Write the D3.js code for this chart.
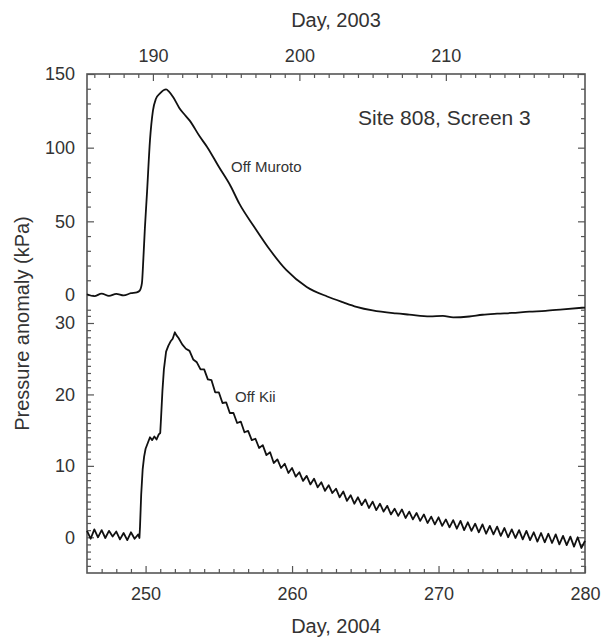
<!DOCTYPE html>
<html>
<head>
<meta charset="utf-8">
<script src="https://cdn.jsdelivr.net/npm/d3@7"></script>
<style>
  html, body { margin: 0; padding: 0; background: #fff; }
  svg text { font-family: "Liberation Sans", Arial, sans-serif; fill: #333; }
</style>
</head>
<body>
<div id="chart"></div>
<script>
// ==== data ====
// Off Muroto, day of 2003 -> kPa
const murotoDays = [185.5, 186, 186.5, 187, 187.5, 188, 188.5, 188.9, 189.1, 189.25, 189.35, 189.45,
  189.6, 189.8, 190.0, 190.2, 190.5, 190.9, 191.1, 191.4, 191.8, 192.2, 192.5, 193.2, 193.7,
  194.5, 195.3, 195.9, 196.9, 198, 199.1, 200.5, 201.9, 203, 203.9, 205, 206.6, 207.5, 208.9,
  209.8, 210.5, 211.6, 212.5, 213.5, 214.5, 215.7, 216.8, 218, 219.5]
const murotoKpa = [0.5, -0.8, 1.0, -0.6, 0.8, -0.3, 1.2, 1.8, 3, 8, 25, 45,
  70, 105, 125, 133, 137, 139.5, 138, 134, 127, 122, 118.5, 107.5, 100.5,
  87, 74, 62, 46.5, 30.5, 17, 5.5, -1, -5, -8, -10.5, -12.5, -13.3, -14.5,
  -14.2, -15.2, -14.6, -13.4, -12.7, -12.2, -11.3, -10.8, -9.7, -8.5]

// Off Kii, day of 2004 -> kPa
// quarter-day readings: [day, v(+0), v(+0.25), v(+0.5), v(+0.75)]
const kiiPreRows = [
  [246, 0.9, -0.2, 1.1, 0.0],
  [247, 1.0, -0.1, 0.9, 0.1],
  [248, 0.8, -0.3, 0.6, -0.4],
  [249, 0.7, -0.2],
]
const kiiEventDays = [249.5, 249.58, 249.62, 249.7, 249.8, 249.9, 250.0, 250.15, 250.3, 250.45,
  250.6, 250.75, 250.9, 251.0, 251.05, 251.15, 251.25, 251.4, 251.55, 251.7, 251.85, 252.0,
  252.1, 252.25, 252.5, 252.75]
const kiiEventKpa = [0.4, -0.1, 1.5, 6, 9.5, 11.3, 12.4, 13.2, 14.0, 13.6,
  14.1, 13.7, 14.4, 14.6, 16.5, 20.5, 23.5, 26.0, 26.8, 27.4, 27.8, 28.7,
  28.3, 27.9, 27.0, 26.4]
const kiiTideRows = [
  [253, 26.1, 24.9, 24.5, 23.5],
  [254, 23.5, 22.1, 22.0, 20.3],
  [255, 20.3, 18.8, 18.9, 17.4],
  [256, 17.4, 16.0, 16.2, 14.7],
  [257, 14.9, 13.6, 13.8, 12.5],
  [258, 12.9, 11.5, 11.9, 10.4],
  [259, 10.9, 9.7, 10.3, 9.0],
  [260, 9.7, 8.5, 9.1, 7.9],
  [261, 8.6, 7.4, 8.2, 7.0],
  [262, 7.7, 6.5, 7.3, 6.2],
  [263, 6.8, 5.6, 6.4, 5.1],
  [264, 5.9, 4.7, 5.6, 4.5],
  [265, 5.3, 4.1, 5.0, 3.8],
  [266, 4.7, 3.6, 4.4, 3.2],
  [267, 4.0, 3.0, 3.9, 2.7],
  [268, 3.6, 2.5, 3.4, 2.3],
  [269, 3.2, 2.0, 2.9, 1.8],
  [270, 2.8, 1.6, 2.5, 1.4],
  [271, 2.4, 1.2, 2.3, 1.0],
  [272, 2.1, 0.9, 1.9, 0.7],
  [273, 1.8, 0.5, 1.6, 0.4],
  [274, 1.5, 0.2, 1.3, 0.0],
  [275, 1.1, -0.1, 1.0, -0.3],
  [276, 0.9, -0.4, 0.7, -0.6],
  [277, 0.6, -0.7, 0.5, -0.8],
  [278, 0.4, -1.0, 0.2, -1.1],
  [279, 0.1, -1.3, 0.0, -1.5],
  [280, -0.5],
]

// ticks
const topDayTicks = [190, 200, 210]
const bottomDayTicks = [250, 260, 270, 280]
const murotoTicks = [0, 50, 100, 150]
const kiiTicks = [0, 10, 20, 30]

// ==== layout ====
const W = 610, H = 644
const L = 87, R = 585, T = 74, B = 573

const svg = d3.select('#chart').append('svg')
  .attr('width', W).attr('height', H)

const xTop = d3.scaleLinear().domain([185.5, 219.5]).range([L, R])
const xBot = d3.scaleLinear().domain([246, 280]).range([L, R])
const yTop = d3.scaleLinear().domain([0, 150]).range([295, T])
const yBot = d3.scaleLinear().domain([-5, 30]).range([B, 323])

// rows -> points
function rowsToPoints(rows) {
  const pts = []
  rows.forEach(r => {
    for (let i = 1; i < r.length; i++) pts.push([r[0] + (i - 1) * 0.25, r[i]])
  })
  return pts
}
const murotoPts = murotoDays.map((d, i) => [d, murotoKpa[i]])
const kiiPts = rowsToPoints(kiiPreRows)
  .concat(kiiEventDays.map((d, i) => [d, kiiEventKpa[i]]))
  .concat(rowsToPoints(kiiTideRows))

// minor tick lists
const range = (a, b, s) => d3.range(a, b + s / 2, s)
const topMinor = range(186, 219, 1).filter(d => !topDayTicks.includes(d))
const botMinor = range(247, 279, 1).filter(d => !bottomDayTicks.includes(d))
const murotoMinor = range(-10, 140, 10).filter(d => !murotoTicks.includes(d))
const kiiMinor = range(-4, 31, 1).filter(d => !kiiTicks.includes(d))

const axisColor = '#555'

function styleAxis(g, labels) {
  g.select('.domain').remove()
  g.selectAll('.tick line').attr('stroke', axisColor).attr('stroke-width', 1.2)
  g.selectAll('.tick text').attr('fill', '#333').style('font-size', '18px')
  if (!labels) g.selectAll('.tick text').remove()
}

function addAxis(axis, tr, labels) {
  const g = svg.append('g').attr('transform', tr).call(axis)
  styleAxis(g, labels)
  return g
}

// major/minor ticks, inward
const MAJ = 7, MIN = 4
addAxis(d3.axisTop(xTop).tickValues(topDayTicks).tickSize(-MAJ).tickPadding(12).tickFormat(d3.format('d')), `translate(0,${T})`, true)
addAxis(d3.axisTop(xTop).tickValues(topMinor).tickSize(-MIN).tickFormat(''), `translate(0,${T})`, false)
addAxis(d3.axisBottom(xBot).tickValues(bottomDayTicks).tickSize(-MAJ).tickPadding(14).tickFormat(d3.format('d')), `translate(0,${B})`, true)
addAxis(d3.axisBottom(xBot).tickValues(botMinor).tickSize(-MIN).tickFormat(''), `translate(0,${B})`, false)

addAxis(d3.axisLeft(yTop).tickValues(murotoTicks).tickSize(-MAJ).tickPadding(12), `translate(${L},0)`, true)
addAxis(d3.axisLeft(yTop).tickValues(murotoMinor).tickSize(-MIN).tickFormat(''), `translate(${L},0)`, false)
addAxis(d3.axisLeft(yBot).tickValues(kiiTicks).tickSize(-MAJ).tickPadding(12), `translate(${L},0)`, true)
addAxis(d3.axisLeft(yBot).tickValues(kiiMinor).tickSize(-MIN).tickFormat(''), `translate(${L},0)`, false)

addAxis(d3.axisRight(yTop).tickValues(murotoTicks).tickSize(-MAJ), `translate(${R},0)`, false)
addAxis(d3.axisRight(yTop).tickValues(murotoMinor).tickSize(-MIN), `translate(${R},0)`, false)
addAxis(d3.axisRight(yBot).tickValues(kiiTicks).tickSize(-MAJ), `translate(${R},0)`, false)
addAxis(d3.axisRight(yBot).tickValues(kiiMinor).tickSize(-MIN), `translate(${R},0)`, false)

// frame
svg.append('rect')
  .attr('x', L).attr('y', T).attr('width', R - L).attr('height', B - T)
  .attr('fill', 'none').attr('stroke', axisColor).attr('stroke-width', 1.6)

// lines
svg.append('path')
  .datum(murotoPts)
  .attr('fill', 'none').attr('stroke', '#111').attr('stroke-width', 1.8)
  .attr('stroke-linejoin', 'round')
  .attr('d', d3.line().x(d => xTop(d[0])).y(d => yTop(d[1])).curve(d3.curveMonotoneX))

svg.append('path')
  .datum(kiiPts)
  .attr('fill', 'none').attr('stroke', '#111').attr('stroke-width', 1.8)
  .attr('stroke-linejoin', 'round')
  .attr('d', d3.line().x(d => xBot(d[0])).y(d => yBot(d[1])))

// titles and labels
svg.append('text').attr('x', (L + R) / 2).attr('y', 27)
  .attr('text-anchor', 'middle').style('font-size', '20px').text('Day, 2003')
svg.append('text').attr('x', (L + R) / 2).attr('y', 633)
  .attr('text-anchor', 'middle').style('font-size', '20px').text('Day, 2004')
svg.append('text')
  .attr('transform', `translate(29,${(T + B) / 2}) rotate(-90)`)
  .attr('text-anchor', 'middle').style('font-size', '20px').text('Pressure anomaly (kPa)')
svg.append('text').attr('x', 358).attr('y', 125)
  .style('font-size', '21px').text('Site 808, Screen 3')
svg.append('text').attr('x', 231).attr('y', 172)
  .style('font-size', '15px').text('Off Muroto')
svg.append('text').attr('x', 235).attr('y', 402)
  .style('font-size', '15px').text('Off Kii')
</script>
</body>
</html>
